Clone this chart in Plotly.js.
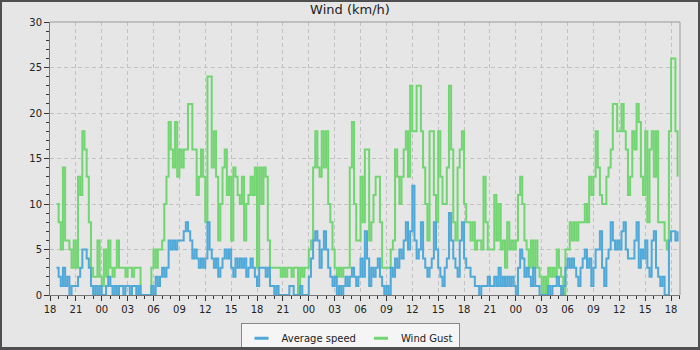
<!DOCTYPE html>
<html>
<head>
<meta charset="utf-8">
<script src="https://cdn.plot.ly/plotly-3.0.1.min.js"></script>
<style>
  html, body { margin: 0; padding: 0; background: #e6e6e6; }
  #wrap { position: relative; width: 700px; height: 350px; }
  #chart { width: 700px; height: 350px; }
  #frame { position: absolute; left: 0; top: 0; width: 700px; height: 350px; box-sizing: border-box;
           border: 2px solid #4f4f4f; border-bottom-width: 3px; pointer-events: none; }
</style>
</head>
<body>
<div id="wrap"><div id="chart"></div><div id="frame"></div></div>
<script>
// Sampling: first reading 2024-05-10 18:45, one reading every 15 minutes
const firstReading = [2024, 4, 10, 18, 45];
const stepMinutes = 15;

// Wind Gust (km/h), grouped by hour (first group = 18:45 only)
const windGust = [
  10,
  8,5,14,6,   6,5,3,6,    3,13,11,18, 16,13,8,3,  2,2,6,2,    1,5,2,6,
  3,2,3,6,    3,3,3,2,    3,3,2,3,    3,3,0,0,    0,0,0,3,    5,3,5,5,
  6,10,13,19, 16,14,19,13, 16,14,16,16, 21,21,16,16, 11,13,16,13, 8,24,24,14,
  18,13,6,10, 14,16,11,13, 6,14,13,11, 10,13,6,10, 11,13,11,14, 3,14,10,14,
  13,6,3,3,   3,3,3,2,    3,2,3,3,    2,3,3,0,    3,2,3,3,    5,6,14,18,
  14,13,18,14, 18,10,8,5, 3,2,3,2,    3,3,3,14,   19,10,6,6,  13,8,16,16,
  6,8,11,13,  13,8,3,3,   3,3,5,6,    16,13,10,13, 16,18,13,23, 18,18,23,23,
  18,14,10,6, 18,18,11,8, 18,13,10,10, 14,23,16,8, 6,14,16,18, 10,8,8,6,
  8,5,6,6,    5,13,8,5,   5,5,11,6,   10,5,6,3,   8,5,6,5,    6,11,13,10,
  6,5,3,6,    3,6,3,2,    0,2,0,3,    2,3,2,5,    3,2,0,5,    5,8,6,8,
  6,8,8,8,    10,8,13,11, 13,18,14,11, 10,10,13,14, 16,21,21,18, 18,21,18,16,
  11,13,18,16, 21,19,13,11, 18,8,16,18, 13,18,8,8, 8,6,5,18,  26,26,18,13
];

// Average speed (km/h), same timestamps
const averageSpeed = [
  3,
  2,1,3,1,    2,0,1,1,    1,2,3,5,    5,4,3,1,    0,1,0,1,    0,0,1,2,
  1,0,1,0,    1,1,0,1,    1,0,1,1,    0,1,0,0,    0,0,0,1,    0,2,1,2,
  3,2,3,6,    5,6,5,6,    6,6,7,8,    7,6,4,5,    4,3,4,3,    4,8,5,4,
  3,4,2,3,    4,5,4,5,    3,2,4,3,    4,3,4,2,    3,4,3,2,    1,3,3,3,
  2,3,1,1,    0,1,0,0,    0,0,0,1,    1,0,0,0,    1,0,0,0,    2,4,6,7,
  6,3,5,7,    5,3,2,1,    2,0,1,0,    1,2,1,2,    3,2,1,2,    4,2,7,4,
  1,3,2,3,    4,2,1,0,    1,0,3,2,    4,3,5,4,    6,8,5,7,    12,6,4,5,
  8,4,3,2,    3,4,8,5,    3,2,1,3,    4,9,6,4,    3,2,6,8,    4,3,3,2,
  2,1,1,0,    1,1,1,2,    1,1,2,1,    3,1,2,1,    2,1,2,1,    0,3,5,4,
  2,3,2,1,    3,1,1,0,    0,0,0,1,    0,1,1,2,    1,0,1,3,    4,3,4,3,
  2,1,3,4,    5,3,4,1,    3,5,5,7,    3,1,4,5,    8,6,5,6,    5,7,8,5,
  4,4,4,6,    8,3,5,4,    6,3,2,6,    7,3,2,1,    2,0,0,6,    7,7,6,7
];

const seriesNames = ['Average speed', 'Wind Gust'];
const seriesColors = ['#4ea8d8', '#71d671'];

function stamp(i) {
  const ms = Date.UTC(firstReading[0], firstReading[1], firstReading[2], firstReading[3], firstReading[4]) + i * stepMinutes * 60000;
  return new Date(ms).toISOString().slice(0, 16).replace('T', ' ');
}
const times = averageSpeed.map((_, i) => stamp(i));

const font = 'DejaVu Sans, sans-serif';
const traces = [
  { x: times, y: windGust, type: 'scatter', mode: 'lines', line: { shape: 'hv', color: seriesColors[1], width: 2 }, showlegend: false, hoverinfo: 'skip' },
  { x: times, y: averageSpeed, type: 'scatter', mode: 'lines', line: { shape: 'hv', color: seriesColors[0], width: 2 }, showlegend: false, hoverinfo: 'skip' },
  { x: [null], y: [null], type: 'scatter', mode: 'markers', name: seriesNames[0],
    marker: { symbol: 'line-ew', size: 10, color: seriesColors[0], line: { width: 3, color: seriesColors[0] } } },
  { x: [null], y: [null], type: 'scatter', mode: 'markers', name: seriesNames[1],
    marker: { symbol: 'line-ew', size: 10, color: seriesColors[1], line: { width: 3, color: seriesColors[1] } } }
];

const layout = {
  width: 700, height: 350,
  paper_bgcolor: '#e6e6e6', plot_bgcolor: '#e6e6e6',
  margin: { l: 50, r: 20, t: 22, b: 55 },
  font: { family: font, size: 10, color: '#222' },
  title: { text: 'Wind (km/h)', font: { family: font, size: 13, color: '#222', weight: 'normal' }, x: 0.5, xanchor: 'center', y: 0.972, yanchor: 'middle' },
  xaxis: {
    type: 'date', range: ['2024-05-10 18:00', '2024-05-13 19:02'],
    tick0: '2024-05-10 00:00', dtick: 3 * 3600000, tickformat: '%H',
    ticks: 'outside', ticklen: 5, tickcolor: '#333',
    showline: true, linecolor: '#777', linewidth: 1,
    showgrid: true, gridcolor: '#c2c2c2', gridwidth: 1, griddash: '4px,3px',
    zeroline: false,
    minor: { dtick: 3600000, ticks: 'outside', ticklen: 3, tickcolor: '#333', showgrid: false },
    tickfont: { family: font, size: 10, color: '#222' }
  },
  yaxis: {
    range: [0, 30], dtick: 5, tick0: 0,
    ticks: 'outside', ticklen: 5, tickcolor: '#333',
    showline: true, linecolor: '#777', linewidth: 1,
    showgrid: true, gridcolor: '#c2c2c2', gridwidth: 1, griddash: '4px,3px',
    zeroline: false,
    minor: { dtick: 1, ticks: 'outside', ticklen: 3, tickcolor: '#333', showgrid: false },
    tickfont: { family: font, size: 10, color: '#222' }
  },
  shapes: [
    { type: 'line', xref: 'paper', yref: 'paper', x0: 0, x1: 1, y0: 1, y1: 1, line: { color: '#9a9a9a', width: 1 } },
    { type: 'line', xref: 'paper', yref: 'paper', x0: 1, x1: 1, y0: 0, y1: 1, line: { color: '#9a9a9a', width: 1 } }
  ],
  showlegend: true,
  legend: {
    orientation: 'h', xref: 'container', yref: 'container', x: 0.5, xanchor: 'center', y: 0.078, yanchor: 'top',
    bgcolor: '#f5f5f5', bordercolor: '#888', borderwidth: 1,
    font: { family: font, size: 10, color: '#222' }, itemwidth: 30
  }
};

Plotly.newPlot('chart', traces, layout, { staticPlot: true, displayModeBar: false });
</script>
</body>
</html>
